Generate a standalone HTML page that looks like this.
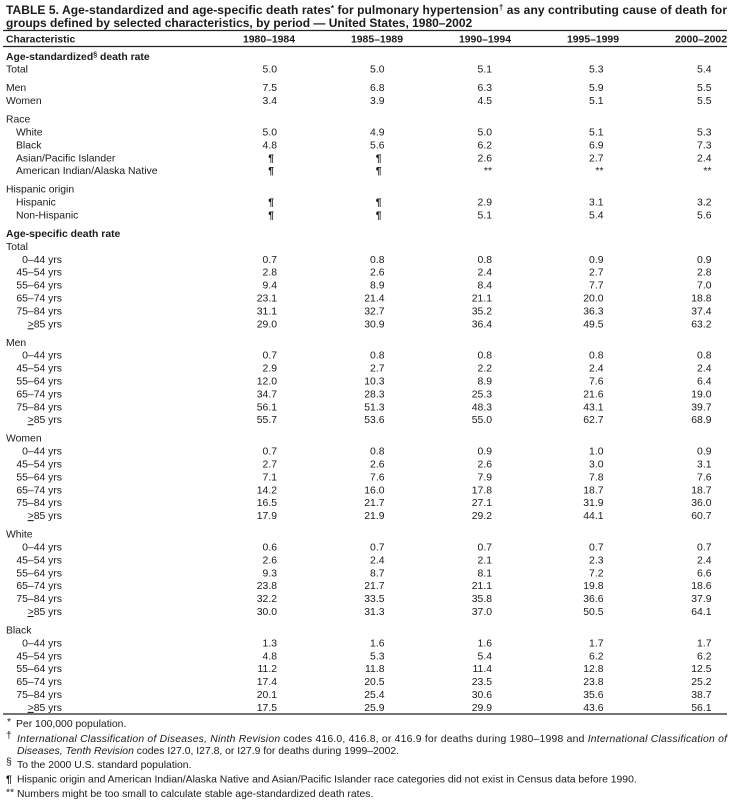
<!DOCTYPE html>
<html><head><meta charset="utf-8"><style>
html,body{margin:0;padding:0;background:#fff;}
svg{display:block;}
text{font-family:"Liberation Sans",Arial,Helvetica,sans-serif;font-size:10.4px;fill:#1a1a1a;}
.t{font-size:12px;font-weight:bold;}
.b{font-weight:bold;}
.n text{text-anchor:end;}
.a{text-anchor:end;}
.i{font-style:italic;}
</style></head><body>
<svg width="736" height="804" viewBox="0 0 736 804" xmlns="http://www.w3.org/2000/svg">
<!-- Title -->
<text x="6" y="14" class="t" textLength="721" lengthAdjust="spacing">TABLE 5. Age-standardized and age-specific death rates<tspan font-size="8" dy="-3">*</tspan><tspan dy="3"> for pulmonary hypertension</tspan><tspan font-size="8" dy="-4">†</tspan><tspan dy="4"> as any contributing cause of death for</tspan></text>
<text x="6" y="27" class="t">groups defined by selected characteristics, by period — United States, 1980–2002</text>

<line x1="3" y1="30.5" x2="727" y2="30.5" stroke="#222" stroke-width="1.2"/>
<text x="6" y="42.5" class="b">Characteristic</text>
<g class="n b"><text x="295" y="42.5">1980–1984</text><text x="403" y="42.5">1985–1989</text><text x="511" y="42.5">1990–1994</text><text x="619" y="42.5">1995–1999</text><text x="727" y="42.5">2000–2002</text></g>
<line x1="3" y1="46.5" x2="727" y2="46.5" stroke="#222" stroke-width="1.2"/>

<!-- Age-standardized -->
<text x="6" y="59.8" class="b">Age-standardized<tspan font-size="7" dy="-3.5">§</tspan><tspan dy="3.5"> death rate</tspan></text>
<text x="6" y="72.7">Total</text>
<g class="n"><text x="277" y="72.7">5.0</text><text x="384.5" y="72.7">5.0</text><text x="492" y="72.7">5.1</text><text x="603.5" y="72.7">5.3</text><text x="711.5" y="72.7">5.4</text></g>

<text x="6" y="91.2">Men</text>
<g class="n"><text x="277" y="91.2">7.5</text><text x="384.5" y="91.2">6.8</text><text x="492" y="91.2">6.3</text><text x="603.5" y="91.2">5.9</text><text x="711.5" y="91.2">5.5</text></g>
<text x="6" y="104.1">Women</text>
<g class="n"><text x="277" y="104.1">3.4</text><text x="384.5" y="104.1">3.9</text><text x="492" y="104.1">4.5</text><text x="603.5" y="104.1">5.1</text><text x="711.5" y="104.1">5.5</text></g>

<text x="6" y="122.6">Race</text>
<text x="16" y="135.5">White</text>
<g class="n"><text x="277" y="135.5">5.0</text><text x="384.5" y="135.5">4.9</text><text x="492" y="135.5">5.0</text><text x="603.5" y="135.5">5.1</text><text x="711.5" y="135.5">5.3</text></g>
<text x="16" y="148.4">Black</text>
<g class="n"><text x="277" y="148.4">4.8</text><text x="384.5" y="148.4">5.6</text><text x="492" y="148.4">6.2</text><text x="603.5" y="148.4">6.9</text><text x="711.5" y="148.4">7.3</text></g>
<text x="16" y="161.3">Asian/Pacific Islander</text>
<g class="n"><text x="274" y="161.3" class="b">¶</text><text x="381.5" y="161.3" class="b">¶</text><text x="492" y="161.3">2.6</text><text x="603.5" y="161.3">2.7</text><text x="711.5" y="161.3">2.4</text></g>
<text x="16" y="174.2">American Indian/Alaska Native</text>
<g class="n"><text x="274" y="174.2" class="b">¶</text><text x="381.5" y="174.2" class="b">¶</text><text x="492" y="174.2">**</text><text x="603.5" y="174.2">**</text><text x="711.5" y="174.2">**</text></g>

<text x="6" y="192.7">Hispanic origin</text>
<text x="16" y="205.6">Hispanic</text>
<g class="n"><text x="274" y="205.6" class="b">¶</text><text x="381.5" y="205.6" class="b">¶</text><text x="492" y="205.6">2.9</text><text x="603.5" y="205.6">3.1</text><text x="711.5" y="205.6">3.2</text></g>
<text x="16" y="218.5">Non-Hispanic</text>
<g class="n"><text x="274" y="218.5" class="b">¶</text><text x="381.5" y="218.5" class="b">¶</text><text x="492" y="218.5">5.1</text><text x="603.5" y="218.5">5.4</text><text x="711.5" y="218.5">5.6</text></g>

<!-- Age-specific -->
<text x="6" y="237" class="b">Age-specific death rate</text>
<text x="6" y="249.9">Total</text>
<g class="n">
<text x="62" y="262.8">0–44 yrs</text><text x="277" y="262.8">0.7</text><text x="384.5" y="262.8">0.8</text><text x="492" y="262.8">0.8</text><text x="603.5" y="262.8">0.9</text><text x="711.5" y="262.8">0.9</text>
<text x="62" y="275.7">45–54 yrs</text><text x="277" y="275.7">2.8</text><text x="384.5" y="275.7">2.6</text><text x="492" y="275.7">2.4</text><text x="603.5" y="275.7">2.7</text><text x="711.5" y="275.7">2.8</text>
<text x="62" y="288.6">55–64 yrs</text><text x="277" y="288.6">9.4</text><text x="384.5" y="288.6">8.9</text><text x="492" y="288.6">8.4</text><text x="603.5" y="288.6">7.7</text><text x="711.5" y="288.6">7.0</text>
<text x="62" y="301.5">65–74 yrs</text><text x="277" y="301.5">23.1</text><text x="384.5" y="301.5">21.4</text><text x="492" y="301.5">21.1</text><text x="603.5" y="301.5">20.0</text><text x="711.5" y="301.5">18.8</text>
<text x="62" y="314.4">75–84 yrs</text><text x="277" y="314.4">31.1</text><text x="384.5" y="314.4">32.7</text><text x="492" y="314.4">35.2</text><text x="603.5" y="314.4">36.3</text><text x="711.5" y="314.4">37.4</text>
<text x="62" y="327.3"><tspan style="text-decoration:underline">&gt;</tspan>85 yrs</text><text x="277" y="327.3">29.0</text><text x="384.5" y="327.3">30.9</text><text x="492" y="327.3">36.4</text><text x="603.5" y="327.3">49.5</text><text x="711.5" y="327.3">63.2</text>
</g>

<text x="6" y="345.8">Men</text>
<g class="n">
<text x="62" y="358.7">0–44 yrs</text><text x="277" y="358.7">0.7</text><text x="384.5" y="358.7">0.8</text><text x="492" y="358.7">0.8</text><text x="603.5" y="358.7">0.8</text><text x="711.5" y="358.7">0.8</text>
<text x="62" y="371.6">45–54 yrs</text><text x="277" y="371.6">2.9</text><text x="384.5" y="371.6">2.7</text><text x="492" y="371.6">2.2</text><text x="603.5" y="371.6">2.4</text><text x="711.5" y="371.6">2.4</text>
<text x="62" y="384.5">55–64 yrs</text><text x="277" y="384.5">12.0</text><text x="384.5" y="384.5">10.3</text><text x="492" y="384.5">8.9</text><text x="603.5" y="384.5">7.6</text><text x="711.5" y="384.5">6.4</text>
<text x="62" y="397.4">65–74 yrs</text><text x="277" y="397.4">34.7</text><text x="384.5" y="397.4">28.3</text><text x="492" y="397.4">25.3</text><text x="603.5" y="397.4">21.6</text><text x="711.5" y="397.4">19.0</text>
<text x="62" y="410.3">75–84 yrs</text><text x="277" y="410.3">56.1</text><text x="384.5" y="410.3">51.3</text><text x="492" y="410.3">48.3</text><text x="603.5" y="410.3">43.1</text><text x="711.5" y="410.3">39.7</text>
<text x="62" y="423.2"><tspan style="text-decoration:underline">&gt;</tspan>85 yrs</text><text x="277" y="423.2">55.7</text><text x="384.5" y="423.2">53.6</text><text x="492" y="423.2">55.0</text><text x="603.5" y="423.2">62.7</text><text x="711.5" y="423.2">68.9</text>
</g>

<text x="6" y="441.7">Women</text>
<g class="n">
<text x="62" y="454.6">0–44 yrs</text><text x="277" y="454.6">0.7</text><text x="384.5" y="454.6">0.8</text><text x="492" y="454.6">0.9</text><text x="603.5" y="454.6">1.0</text><text x="711.5" y="454.6">0.9</text>
<text x="62" y="467.5">45–54 yrs</text><text x="277" y="467.5">2.7</text><text x="384.5" y="467.5">2.6</text><text x="492" y="467.5">2.6</text><text x="603.5" y="467.5">3.0</text><text x="711.5" y="467.5">3.1</text>
<text x="62" y="480.4">55–64 yrs</text><text x="277" y="480.4">7.1</text><text x="384.5" y="480.4">7.6</text><text x="492" y="480.4">7.9</text><text x="603.5" y="480.4">7.8</text><text x="711.5" y="480.4">7.6</text>
<text x="62" y="493.3">65–74 yrs</text><text x="277" y="493.3">14.2</text><text x="384.5" y="493.3">16.0</text><text x="492" y="493.3">17.8</text><text x="603.5" y="493.3">18.7</text><text x="711.5" y="493.3">18.7</text>
<text x="62" y="506.2">75–84 yrs</text><text x="277" y="506.2">16.5</text><text x="384.5" y="506.2">21.7</text><text x="492" y="506.2">27.1</text><text x="603.5" y="506.2">31.9</text><text x="711.5" y="506.2">36.0</text>
<text x="62" y="519.1"><tspan style="text-decoration:underline">&gt;</tspan>85 yrs</text><text x="277" y="519.1">17.9</text><text x="384.5" y="519.1">21.9</text><text x="492" y="519.1">29.2</text><text x="603.5" y="519.1">44.1</text><text x="711.5" y="519.1">60.7</text>
</g>

<text x="6" y="537.6">White</text>
<g class="n">
<text x="62" y="550.5">0–44 yrs</text><text x="277" y="550.5">0.6</text><text x="384.5" y="550.5">0.7</text><text x="492" y="550.5">0.7</text><text x="603.5" y="550.5">0.7</text><text x="711.5" y="550.5">0.7</text>
<text x="62" y="563.4">45–54 yrs</text><text x="277" y="563.4">2.6</text><text x="384.5" y="563.4">2.4</text><text x="492" y="563.4">2.1</text><text x="603.5" y="563.4">2.3</text><text x="711.5" y="563.4">2.4</text>
<text x="62" y="576.3">55–64 yrs</text><text x="277" y="576.3">9.3</text><text x="384.5" y="576.3">8.7</text><text x="492" y="576.3">8.1</text><text x="603.5" y="576.3">7.2</text><text x="711.5" y="576.3">6.6</text>
<text x="62" y="589.2">65–74 yrs</text><text x="277" y="589.2">23.8</text><text x="384.5" y="589.2">21.7</text><text x="492" y="589.2">21.1</text><text x="603.5" y="589.2">19.8</text><text x="711.5" y="589.2">18.6</text>
<text x="62" y="602.1">75–84 yrs</text><text x="277" y="602.1">32.2</text><text x="384.5" y="602.1">33.5</text><text x="492" y="602.1">35.8</text><text x="603.5" y="602.1">36.6</text><text x="711.5" y="602.1">37.9</text>
<text x="62" y="615"><tspan style="text-decoration:underline">&gt;</tspan>85 yrs</text><text x="277" y="615">30.0</text><text x="384.5" y="615">31.3</text><text x="492" y="615">37.0</text><text x="603.5" y="615">50.5</text><text x="711.5" y="615">64.1</text>
</g>

<text x="6" y="633.5">Black</text>
<g class="n">
<text x="62" y="646.4">0–44 yrs</text><text x="277" y="646.4">1.3</text><text x="384.5" y="646.4">1.6</text><text x="492" y="646.4">1.6</text><text x="603.5" y="646.4">1.7</text><text x="711.5" y="646.4">1.7</text>
<text x="62" y="659.3">45–54 yrs</text><text x="277" y="659.3">4.8</text><text x="384.5" y="659.3">5.3</text><text x="492" y="659.3">5.4</text><text x="603.5" y="659.3">6.2</text><text x="711.5" y="659.3">6.2</text>
<text x="62" y="672.2">55–64 yrs</text><text x="277" y="672.2">11.2</text><text x="384.5" y="672.2">11.8</text><text x="492" y="672.2">11.4</text><text x="603.5" y="672.2">12.8</text><text x="711.5" y="672.2">12.5</text>
<text x="62" y="685.1">65–74 yrs</text><text x="277" y="685.1">17.4</text><text x="384.5" y="685.1">20.5</text><text x="492" y="685.1">23.5</text><text x="603.5" y="685.1">23.8</text><text x="711.5" y="685.1">25.2</text>
<text x="62" y="698">75–84 yrs</text><text x="277" y="698">20.1</text><text x="384.5" y="698">25.4</text><text x="492" y="698">30.6</text><text x="603.5" y="698">35.6</text><text x="711.5" y="698">38.7</text>
<text x="62" y="710.9"><tspan style="text-decoration:underline">&gt;</tspan>85 yrs</text><text x="277" y="710.9">17.5</text><text x="384.5" y="710.9">25.9</text><text x="492" y="710.9">29.9</text><text x="603.5" y="710.9">43.6</text><text x="711.5" y="710.9">56.1</text>
</g>

<line x1="3" y1="714" x2="727" y2="714" stroke="#222" stroke-width="1.2"/>

<!-- Footnotes -->
<text x="7" y="725" font-size="8">*</text>
<text x="16" y="727">Per 100,000 population.</text>

<text x="6" y="738.5" font-size="8.5">†</text>
<text x="17" y="742" textLength="710" lengthAdjust="spacing"><tspan class="i">International Classification of Diseases, Ninth Revision</tspan> codes 416.0, 416.8, or 416.9 for deaths during 1980–1998 and <tspan class="i">International Classification of</tspan></text>
<text x="17" y="754"><tspan class="i">Diseases, Tenth Revision</tspan> codes I27.0, I27.8, or I27.9 for deaths during 1999–2002.</text>

<text x="6" y="765" font-size="8">§</text>
<text x="17" y="768">To the 2000 U.S. standard population.</text>

<text x="6" y="782.5" class="b" font-size="9.5">¶</text>
<text x="17" y="782.5">Hispanic origin and American Indian/Alaska Native and Asian/Pacific Islander race categories did not exist in Census data before 1990.</text>

<text x="6" y="795.5" font-size="8">**</text>
<text x="17" y="797">Numbers might be too small to calculate stable age-standardized death rates.</text>
</svg>
</body></html>
